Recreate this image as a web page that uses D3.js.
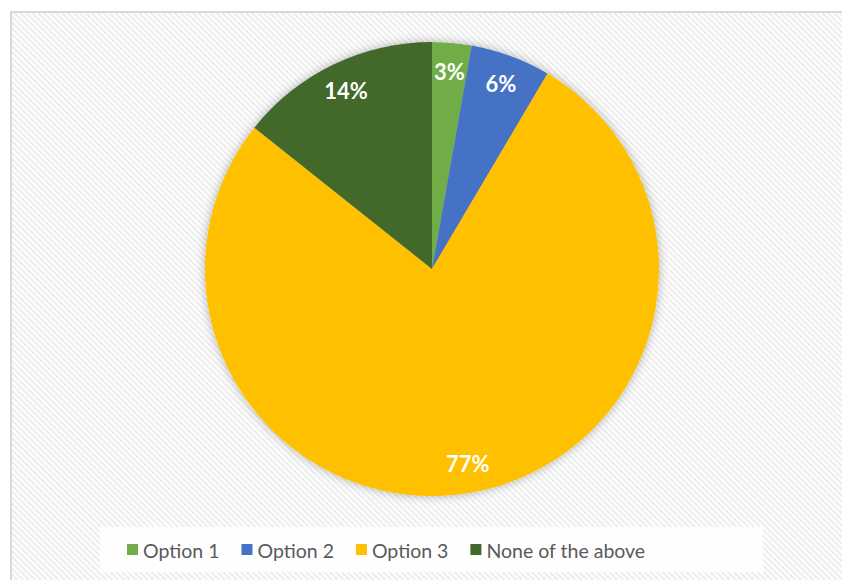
<!DOCTYPE html>
<html>
<head>
<meta charset="utf-8">
<script src="https://cdn.jsdelivr.net/npm/d3@7"></script>
<style>
  html, body { margin: 0; padding: 0; background: #fff; }
  svg { display: block; }
  .slice-label { font-family: Lato, "Open Sans", sans-serif; font-weight: 700; fill: #fff; }
  .legend-text { font-family: Lato, "Open Sans", sans-serif; fill: #595959; }
</style>
</head>
<body>
<svg id="chart"></svg>
<script>
// data
const categories = ["Option 1", "Option 2", "Option 3", "None of the above"];
const shares = [2.8, 5.7, 77.2, 14.3];
const sliceColors = ["#70ad47", "#4472c4", "#ffc000", "#43682b"];

const width = 842, height = 580;
const cx = 432, cy = 269, radius = 227;

const svg = d3.select("#chart")
    .attr("width", width)
    .attr("height", height);

const defs = svg.append("defs");

// diagonal hatch used as the chart area fill
const hatch = defs.append("pattern")
    .attr("id", "hatch")
    .attr("patternUnits", "userSpaceOnUse")
    .attr("width", 4.2)
    .attr("height", 4.2)
    .attr("patternTransform", "rotate(-45)");
hatch.append("rect").attr("width", 4.2).attr("height", 4.2).attr("fill", "#fff");
hatch.append("rect").attr("width", 2.1).attr("height", 4.2).attr("fill", "#ededed");

const shadow = defs.append("filter")
    .attr("id", "shadow")
    .attr("x", "-20%").attr("y", "-20%")
    .attr("width", "140%").attr("height", "140%");
shadow.append("feDropShadow")
    .attr("dx", 0).attr("dy", 0)
    .attr("stdDeviation", 5)
    .attr("flood-color", "#000")
    .attr("flood-opacity", 0.3);

// frame + background
svg.append("rect")
    .attr("x", 11).attr("y", 12)
    .attr("width", width).attr("height", height)
    .attr("fill", "url(#hatch)")
    .attr("stroke", "#d9d9d9")
    .attr("stroke-width", 2);

// pie
const pie = d3.pie().sort(null).value(d => d)
    .startAngle(0).endAngle(2 * Math.PI);
const arcs = pie(shares);

const arc = d3.arc().innerRadius(0).outerRadius(radius);
const labelArc = d3.arc().innerRadius(198).outerRadius(198);

const g = svg.append("g")
    .attr("transform", `translate(${cx},${cy})`);

g.append("g")
    .attr("filter", "url(#shadow)")
    .selectAll("path")
    .data(arcs)
    .join("path")
    .attr("d", arc)
    .attr("fill", (d, i) => sliceColors[i]);

g.selectAll("text")
    .data(arcs)
    .join("text")
    .attr("class", "slice-label")
    .attr("transform", d => `translate(${labelArc.centroid(d)})`)
    .attr("text-anchor", "middle")
    .attr("dominant-baseline", "central")
    .attr("font-size", 22)
    .text(d => Math.round(d.data) + "%");

// legend
svg.append("rect")
    .attr("x", 100).attr("y", 527)
    .attr("width", 663).attr("height", 45)
    .attr("fill", "#fff")
    .attr("fill-opacity", 0.85);

const legend = svg.append("g").attr("transform", "translate(127,550)");
let x = 0;
categories.forEach((name, i) => {
    const item = legend.append("g").attr("transform", `translate(${x},0)`);
    item.append("rect")
        .attr("x", 0).attr("y", -6)
        .attr("width", 11).attr("height", 11)
        .attr("fill", sliceColors[i]);
    const t = item.append("text")
        .attr("class", "legend-text")
        .attr("x", 16)
        .attr("dominant-baseline", "central")
        .attr("font-size", 19.5)
        .text(name);
    x += 16 + t.node().getComputedTextLength() + 22;
});
</script>
</body>
</html>
